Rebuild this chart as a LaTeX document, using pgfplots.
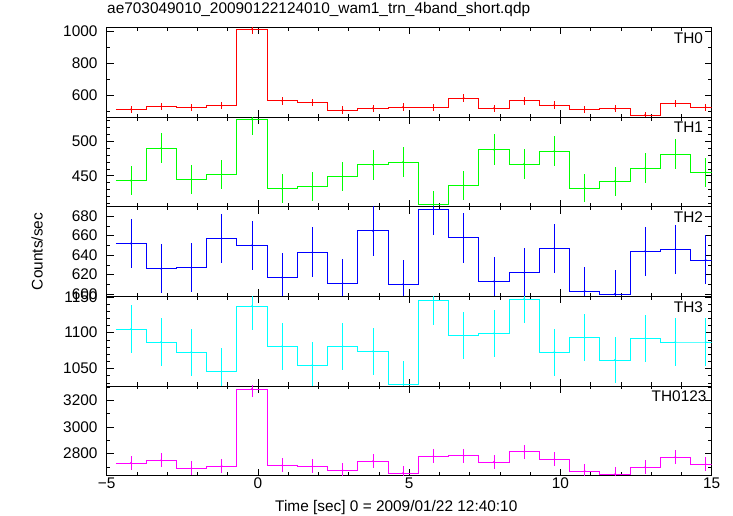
\documentclass[border=0pt]{standalone}
\usepackage{fontspec}
\setmainfont{Liberation Sans}
\usepackage{pgfplots}
\pgfplotsset{compat=1.18}
\usepackage{pgfplotstable}
\newcommand\qfont{\fontsize{15.4pt}{18pt}\selectfont}
\definecolor{qcyan}{rgb}{0,1,1}
\definecolor{qmag}{rgb}{1,0,1}

% columns: left edge, bin centre, rate, error
\pgfplotstableread{
l c y e
-4.7 -4.2 512 22.6
-3.7 -3.2 531 23.0
-2.7 -2.2 525 22.9
-1.7 -1.2 535 23.1
-0.7 -0.2 1011 31.8
0.3 0.8 566 23.8
1.3 1.8 556 23.6
2.3 2.8 508 22.5
3.3 3.8 519 22.8
4.3 4.8 527 23.0
5.3 5.8 523 22.9
6.3 6.8 583 24.1
7.3 7.8 519 22.8
8.3 8.8 566 23.8
9.3 9.8 539 23.2
10.3 10.8 512 22.6
11.3 11.8 516 22.7
12.3 12.8 477 21.8
13.3 13.8 550 23.5
14.3 14.8 525 22.9
15.3 15.8 525 0
}\tzero

\pgfplotstableread{
l c y e
-4.7 -4.2 443 21.0
-3.7 -3.2 490 22.1
-2.7 -2.2 445 21.1
-1.7 -1.2 452 21.3
-0.7 -0.2 532 23.1
0.3 0.8 431 20.8
1.3 1.8 434 20.8
2.3 2.8 449 21.2
3.3 3.8 466 21.6
4.3 4.8 470 21.7
5.3 5.8 408 20.2
6.3 6.8 436 20.9
7.3 7.8 488 22.1
8.3 8.8 467 21.6
9.3 9.8 486 22.0
10.3 10.8 432 20.8
11.3 11.8 442 21.0
12.3 12.8 461 21.5
13.3 13.8 481 21.9
14.3 14.8 455 21.3
15.3 15.8 455 0
}\tone

\pgfplotstableread{
l c y e
-4.7 -4.2 652 25.5
-3.7 -3.2 626 25.0
-2.7 -2.2 627 25.0
-1.7 -1.2 657 25.6
-0.7 -0.2 650 25.5
0.3 0.8 617 24.8
1.3 1.8 643 25.4
2.3 2.8 611 24.7
3.3 3.8 665 25.8
4.3 4.8 610 24.7
5.3 5.8 687 26.2
6.3 6.8 658 25.7
7.3 7.8 613 24.8
8.3 8.8 622 24.9
9.3 9.8 647 25.4
10.3 10.8 603 24.6
11.3 11.8 600 24.5
12.3 12.8 644 25.4
13.3 13.8 646 25.4
14.3 14.8 635 25.2
15.3 15.8 635 0
}\ttwo

\pgfplotstableread{
l c y e
-4.7 -4.2 1105 33.2
-3.7 -3.2 1087 33.0
-2.7 -2.2 1073 32.8
-1.7 -1.2 1046 32.3
-0.7 -0.2 1137 33.7
0.3 0.8 1081 32.9
1.3 1.8 1055 32.5
2.3 2.8 1081 32.9
3.3 3.8 1074 32.8
4.3 4.8 1028 32.1
5.3 5.8 1145 33.8
6.3 6.8 1096 33.1
7.3 7.8 1099 33.2
8.3 8.8 1147 33.9
9.3 9.8 1073 32.8
10.3 10.8 1093 33.1
11.3 11.8 1062 32.6
12.3 12.8 1092 33.0
13.3 13.8 1087 33.0
14.3 14.8 1087 33.0
15.3 15.8 1087 0
}\tthree

\pgfplotstableread{
l c y e
-4.7 -4.2 2730 52.2
-3.7 -3.2 2750 52.4
-2.7 -2.2 2690 51.9
-1.7 -1.2 2707 52.0
-0.7 -0.2 3285 57.3
0.3 0.8 2712 52.1
1.3 1.8 2705 52.0
2.3 2.8 2675 51.7
3.3 3.8 2743 52.4
4.3 4.8 2655 51.5
5.3 5.8 2780 52.7
6.3 6.8 2785 52.8
7.3 7.8 2737 52.3
8.3 8.8 2815 53.1
9.3 9.8 2758 52.5
10.3 10.8 2670 51.7
11.3 11.8 2645 51.4
12.3 12.8 2698 51.9
13.3 13.8 2775 52.7
14.3 14.8 2720 52.2
15.3 15.8 2720 0
}\tall

\pgfplotsset{
  panel/.style={
    scale only axis, width=605pt, height=89.6pt, anchor=north west,
    xmin=-5, xmax=15,
    xtick={-5,0,5,10,15}, minor xtick={-4,...,14},
    xticklabels={},
    tick align=inside, xtick pos=both, ytick pos=both,
    major tick length=7pt, minor tick length=3.5pt,
    tick style={black, line width=0.6pt},
    axis line style={black, line width=0.8pt},
    tick label style={font=\qfont, inner sep=0pt},
    yticklabel style={xshift=-9pt},
    xticklabel style={yshift=-2.5pt},
    /pgf/number format/assume math mode=true,
    /pgf/number format/1000 sep={},
  },
  hist/.style={const plot mark left, line width=0.8pt},
  errs/.style={only marks, mark=*, mark size=0.4pt, line width=0.8pt,
    error bars/.cd, y dir=both, y explicit, error mark=none},
}
\tikzset{lab/.style={font=\qfont, anchor=base east, inner sep=0pt}}

\begin{document}
\begin{tikzpicture}
\useasboundingbox (-106.7pt,27.5pt) rectangle (626.3pt,-488.5pt);

\begin{axis}[panel, at={(0pt,0pt)}, ymin=464, ymax=1022,
  ytick={600,800,1000}, minor ytick={500,700,900},
  title={ae703049010\_20090122124010\_wam1\_trn\_4band\_short.qdp},
  title style={at={(rel axis cs:0.0005,1)}, anchor=base west, yshift=8pt, inner sep=0pt, font=\qfont}]
\addplot[red, hist] table[x=l, y=y] {\tzero};
\addplot[red, errs, error bar style={red, line width=0.8pt}] table[x=c, y=y, y error=e] {\tzero};
\node[lab, xshift=-8.5pt, yshift=-15.8pt] at (rel axis cs:1,1) {TH0};
\end{axis}

\begin{axis}[panel, at={(0pt,-89.6pt)}, ymin=405, ymax=535.2,
  ytick={450,500}, minor ytick={410,420,...,530}]
\addplot[green, hist] table[x=l, y=y] {\tone};
\addplot[green, errs, error bar style={green, line width=0.8pt}] table[x=c, y=y, y error=e] {\tone};
\node[lab, xshift=-8.5pt, yshift=-15.8pt] at (rel axis cs:1,1) {TH1};
\end{axis}

\begin{axis}[panel, at={(0pt,-179.2pt)}, ymin=597.6, ymax=689.8,
  ytick={600,620,...,680}, minor ytick={610,630,...,670},
  ylabel={Counts/sec},
  ylabel style={at={(rel axis cs:-0.1152,0.5)}, anchor=center, inner sep=0pt, font=\qfont}]
\addplot[blue, hist] table[x=l, y=y] {\ttwo};
\addplot[blue, errs, error bar style={blue, line width=0.8pt}] table[x=c, y=y, y error=e] {\ttwo};
\node[lab, xshift=-8.5pt, yshift=-15.8pt] at (rel axis cs:1,1) {TH2};
\end{axis}

\begin{axis}[panel, at={(0pt,-268.8pt)}, ymin=1025.8, ymax=1150.7,
  ytick={1050,1100,1150}, minor ytick={1030,1040,...,1140}]
\addplot[qcyan, hist] table[x=l, y=y] {\tthree};
\addplot[qcyan, errs, error bar style={qcyan, line width=0.8pt}] table[x=c, y=y, y error=e] {\tthree};
\node[lab, xshift=-8.5pt, yshift=-15.8pt] at (rel axis cs:1,1) {TH3};
\end{axis}

\begin{axis}[panel, at={(0pt,-358.4pt)}, ymin=2636, ymax=3308,
  ytick={2800,3000,3200}, minor ytick={2700,2900,3100,3300},
  xticklabels={−5,0,5,10,15},
  xlabel={Time [sec] 0 = 2009/01/22 12:40:10},
  xlabel style={at={(rel axis cs:0.2782,0)}, anchor=base west, yshift=-35.5pt, inner sep=0pt, font=\qfont}]
\addplot[qmag, hist] table[x=l, y=y] {\tall};
\addplot[qmag, errs, error bar style={qmag, line width=0.8pt}] table[x=c, y=y, y error=e] {\tall};
\node[lab, xshift=-5pt, yshift=-16pt] at (rel axis cs:1,1) {TH0123};
\end{axis}
\end{tikzpicture}
\end{document}
